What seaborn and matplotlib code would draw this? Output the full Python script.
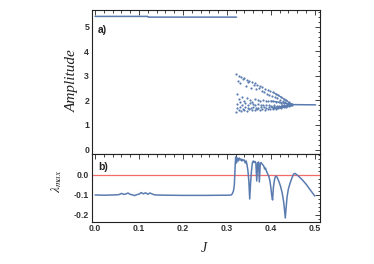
import numpy as np
import pandas as pd
import matplotlib
matplotlib.use("Agg")
import matplotlib.pyplot as plt
from matplotlib.ticker import MultipleLocator
import seaborn as sns

# ---------------- data ----------------
# top panel: upper fixed-point branch
high_J = [0.0, 0.12, 0.121, 0.322]
high_A = [5.42, 5.42, 5.39, 5.39]

# scattered (chaotic / periodic) branches
b1_J = [0.321, 0.327, 0.333, 0.339, 0.345, 0.351, 0.357, 0.363, 0.369, 0.375, 0.381,
        0.387, 0.393, 0.399, 0.405, 0.411, 0.417, 0.423, 0.429, 0.435, 0.441, 0.447]
b1_A = [3.08, 3.00, 2.95, 2.90, 2.84, 2.79, 2.74, 2.69, 2.64, 2.58, 2.53,
        2.48, 2.43, 2.38, 2.33, 2.27, 2.21, 2.14, 2.07, 2.00, 1.92, 1.85]
b2_J = [0.325, 0.331, 0.337, 0.343, 0.349, 0.355, 0.361, 0.367, 0.373, 0.379, 0.385,
        0.391, 0.397, 0.403, 0.409, 0.415, 0.421, 0.427, 0.433, 0.439, 0.445]
b2_A = [2.80, 2.72, 2.86, 2.60, 2.75, 2.52, 2.62, 2.45, 2.50, 2.38, 2.35,
        2.28, 2.24, 2.18, 2.13, 2.08, 2.03, 1.98, 1.94, 1.89, 1.85]
b3_J = [0.322, 0.328, 0.334, 0.340, 0.346, 0.352, 0.358, 0.364, 0.370, 0.376, 0.382,
        0.388, 0.394, 0.400, 0.406, 0.412, 0.418, 0.424, 0.430, 0.436, 0.442, 0.448]
b3_A = [2.25, 2.05, 2.15, 1.98, 2.08, 2.02, 1.95, 2.05, 2.00, 1.97, 2.02,
        1.98, 1.96, 1.98, 1.96, 1.95, 1.93, 1.91, 1.89, 1.87, 1.85, 1.84]
b4_J = [0.323, 0.329, 0.335, 0.341, 0.347, 0.353, 0.359, 0.365, 0.371, 0.377, 0.383,
        0.389, 0.395, 0.401, 0.407, 0.413, 0.419, 0.425, 0.431, 0.437, 0.443, 0.449]
b4_A = [1.85, 1.95, 1.80, 1.90, 1.82, 1.88, 1.85, 1.80, 1.86, 1.82, 1.80,
        1.83, 1.80, 1.79, 1.80, 1.79, 1.79, 1.80, 1.80, 1.81, 1.82, 1.83]
b5_J = [0.321, 0.327, 0.333, 0.339, 0.345, 0.351, 0.357, 0.363, 0.369, 0.375, 0.381,
        0.387, 0.393, 0.399, 0.405, 0.411, 0.417, 0.423, 0.429, 0.435, 0.441, 0.447]
b5_A = [1.52, 1.60, 1.55, 1.62, 1.58, 1.65, 1.60, 1.62, 1.64, 1.60, 1.66,
        1.63, 1.65, 1.66, 1.66, 1.67, 1.68, 1.70, 1.72, 1.75, 1.78, 1.82]
b6_J = [0.324, 0.330, 0.336, 0.342, 0.348, 0.354, 0.360, 0.366, 0.372, 0.378, 0.384,
        0.390, 0.396, 0.402, 0.408, 0.414, 0.420, 0.426, 0.432, 0.438, 0.444]
b6_A = [1.68, 1.72, 1.65, 1.75, 1.70, 1.68, 1.74, 1.71, 1.70, 1.73, 1.72,
        1.70, 1.72, 1.73, 1.72, 1.74, 1.75, 1.76, 1.77, 1.79, 1.81]

# converged branch
tail_J = [0.445, 0.502]
tail_A = [1.83, 1.82]

# bottom panel: largest Lyapunov exponent
lam_J = [0.0, 0.02, 0.04, 0.055, 0.06, 0.065, 0.07, 0.075, 0.08, 0.085, 0.09, 0.095,
         0.10, 0.105, 0.11, 0.115, 0.12, 0.125, 0.13, 0.135, 0.14, 0.16, 0.2, 0.25,
         0.3, 0.31, 0.312, 0.315, 0.317, 0.318, 0.319, 0.320, 0.322, 0.324, 0.326,
         0.328, 0.330, 0.332, 0.334, 0.336, 0.338, 0.340, 0.342, 0.344, 0.346, 0.348,
         0.350, 0.352, 0.354, 0.356, 0.358, 0.360, 0.362, 0.364, 0.366, 0.368, 0.370,
         0.372, 0.374, 0.376, 0.378, 0.380, 0.382, 0.384, 0.386, 0.388, 0.390, 0.392,
         0.394, 0.396, 0.398, 0.400, 0.402, 0.404, 0.406, 0.408, 0.410, 0.412, 0.414,
         0.418, 0.422, 0.426, 0.429, 0.431, 0.433, 0.435, 0.437, 0.440, 0.444, 0.448,
         0.452, 0.455, 0.46, 0.47, 0.48, 0.49, 0.50]
lam_V = [-0.100, -0.101, -0.100, -0.098, -0.092, -0.097, -0.095, -0.090, -0.097, -0.099,
         -0.103, -0.098, -0.096, -0.088, -0.094, -0.089, -0.096, -0.090, -0.095, -0.099,
         -0.100, -0.101, -0.102, -0.102, -0.101, -0.100, -0.095, -0.080, -0.050, 0.000,
         0.050, 0.090, 0.060, 0.085, 0.070, 0.085, 0.075, 0.080, 0.070, 0.078, 0.072,
         0.075, 0.060, 0.070, 0.050, 0.020, -0.030, -0.120, -0.040, 0.020, 0.060, 0.070,
         0.062, 0.068, 0.060, -0.030, 0.060, 0.065, -0.035, 0.060, 0.062, 0.055, 0.050,
         0.045, 0.030, 0.035, 0.020, 0.010, 0.000, -0.010, -0.030, -0.060, -0.100,
         -0.125, -0.060, -0.030, -0.010, -0.005, -0.010, -0.030, -0.055, -0.090, -0.130,
         -0.170, -0.215, -0.160, -0.110, -0.070, -0.040, -0.015, 0.005, 0.008, 0.000,
         -0.020, -0.045, -0.075, -0.105]

# ---------------- style ----------------
sns.set_style("white")
plt.rcParams["mathtext.fontset"] = "stix"
BLUE = "#5a7bb0"
PINK = "#f26b6b"
FRAME = "#222222"

fig = plt.figure(figsize=(3.74, 2.64), dpi=100)
L, W = 92 / 374, 228 / 374
ax1 = fig.add_axes([L, 1 - 153.5 / 264, W, 143.5 / 264])
ax2 = fig.add_axes([L, 1 - 221.7 / 264, W, 68.2 / 264])

# top panel
sns.lineplot(x=high_J, y=high_A, ax=ax1, color=BLUE, lw=1.1, estimator=None, sort=False)
branches = [(b1_J, b1_A), (b2_J, b2_A), (b3_J, b3_A), (b4_J, b4_A), (b5_J, b5_A), (b6_J, b6_A)]
for bj, ba in branches:
    sns.scatterplot(x=bj, y=ba, ax=ax1, color=BLUE, s=2.5, linewidth=0)
for bj, ba in [(b1_J, b1_A), (b3_J, b3_A), (b5_J, b5_A), (b6_J, b6_A)]:
    bj = np.asarray(bj); ba = np.asarray(ba)
    m = bj >= 0.40
    sns.lineplot(x=bj[m], y=ba[m], ax=ax1, color=BLUE, lw=0.9, estimator=None, sort=False)
sns.lineplot(x=tail_J, y=tail_A, ax=ax1, color=BLUE, lw=1.1, estimator=None, sort=False)

# bottom panel
sns.lineplot(x=lam_J, y=lam_V, ax=ax2, color=BLUE, lw=1.1, estimator=None, sort=False)
ax2.axhline(0.0, color=PINK, lw=0.9, zorder=1)

xlim = (-0.007, 0.512)
ax1.set_xlim(*xlim); ax2.set_xlim(*xlim)
ax1.set_ylim(-0.16, 5.68)
ax2.set_ylim(-0.2335, 0.1075)

ax1.yaxis.set_major_locator(MultipleLocator(1))
ax1.yaxis.set_minor_locator(MultipleLocator(0.2))
ax2.yaxis.set_major_locator(MultipleLocator(0.1))
ax2.yaxis.set_minor_locator(MultipleLocator(0.02))
for a in (ax1, ax2):
    a.xaxis.set_major_locator(MultipleLocator(0.1))
    a.xaxis.set_minor_locator(MultipleLocator(0.02))
    a.tick_params(which="both", direction="in", top=True, right=True, colors=FRAME,
                  labelcolor="#333333", width=0.6)
    a.tick_params(which="major", length=3.5, labelsize=6.3, pad=2)
    a.tick_params(which="minor", length=1.8)
    for s in a.spines.values():
        s.set_color(FRAME); s.set_linewidth(0.8)
    for lab in a.get_xticklabels() + a.get_yticklabels():
        lab.set_fontfamily("Liberation Sans"); lab.set_fontweight("bold")
    a.set_xlabel(""); a.set_ylabel("")
ax1.tick_params(labelbottom=False)
ax2.set_yticks([-0.2, -0.1, 0.0])
ax2.set_yticklabels(["-0.2", "-0.1", "0.0"], fontfamily="Liberation Sans", fontweight="bold")
ax2.set_xticks([0.0, 0.1, 0.2, 0.3, 0.4, 0.5])
ax2.set_xticklabels(["0.0", "0.1", "0.2", "0.3", "0.4", "0.5"],
                    fontfamily="Liberation Sans", fontweight="bold")

ax1.text(0.026, 0.86, "a)", transform=ax1.transAxes, fontsize=7.5, va="center",
         fontweight="bold", fontfamily="Liberation Sans", color="#222222")
ax2.text(0.026, 0.80, "b)", transform=ax2.transAxes, fontsize=7.5, va="center",
         fontweight="bold", fontfamily="Liberation Sans", color="#222222")

fig.text(72 / 374, 1 - 81 / 264, "Amplitude", rotation=90, ha="center", va="center",
         fontsize=11, fontstyle="italic", fontfamily="Liberation Serif", color="#222222")
fig.text(57 / 374, 1 - 181 / 264, r"$\lambda_{max}$", rotation=90, ha="center", va="center",
         fontsize=9.5, color="#222222")
fig.text(204 / 374, 1 - 248 / 264, "J", ha="center", va="center",
         fontsize=10, fontstyle="italic", fontfamily="Liberation Serif", color="#222222")

fig.savefig("out.png", dpi=100)
